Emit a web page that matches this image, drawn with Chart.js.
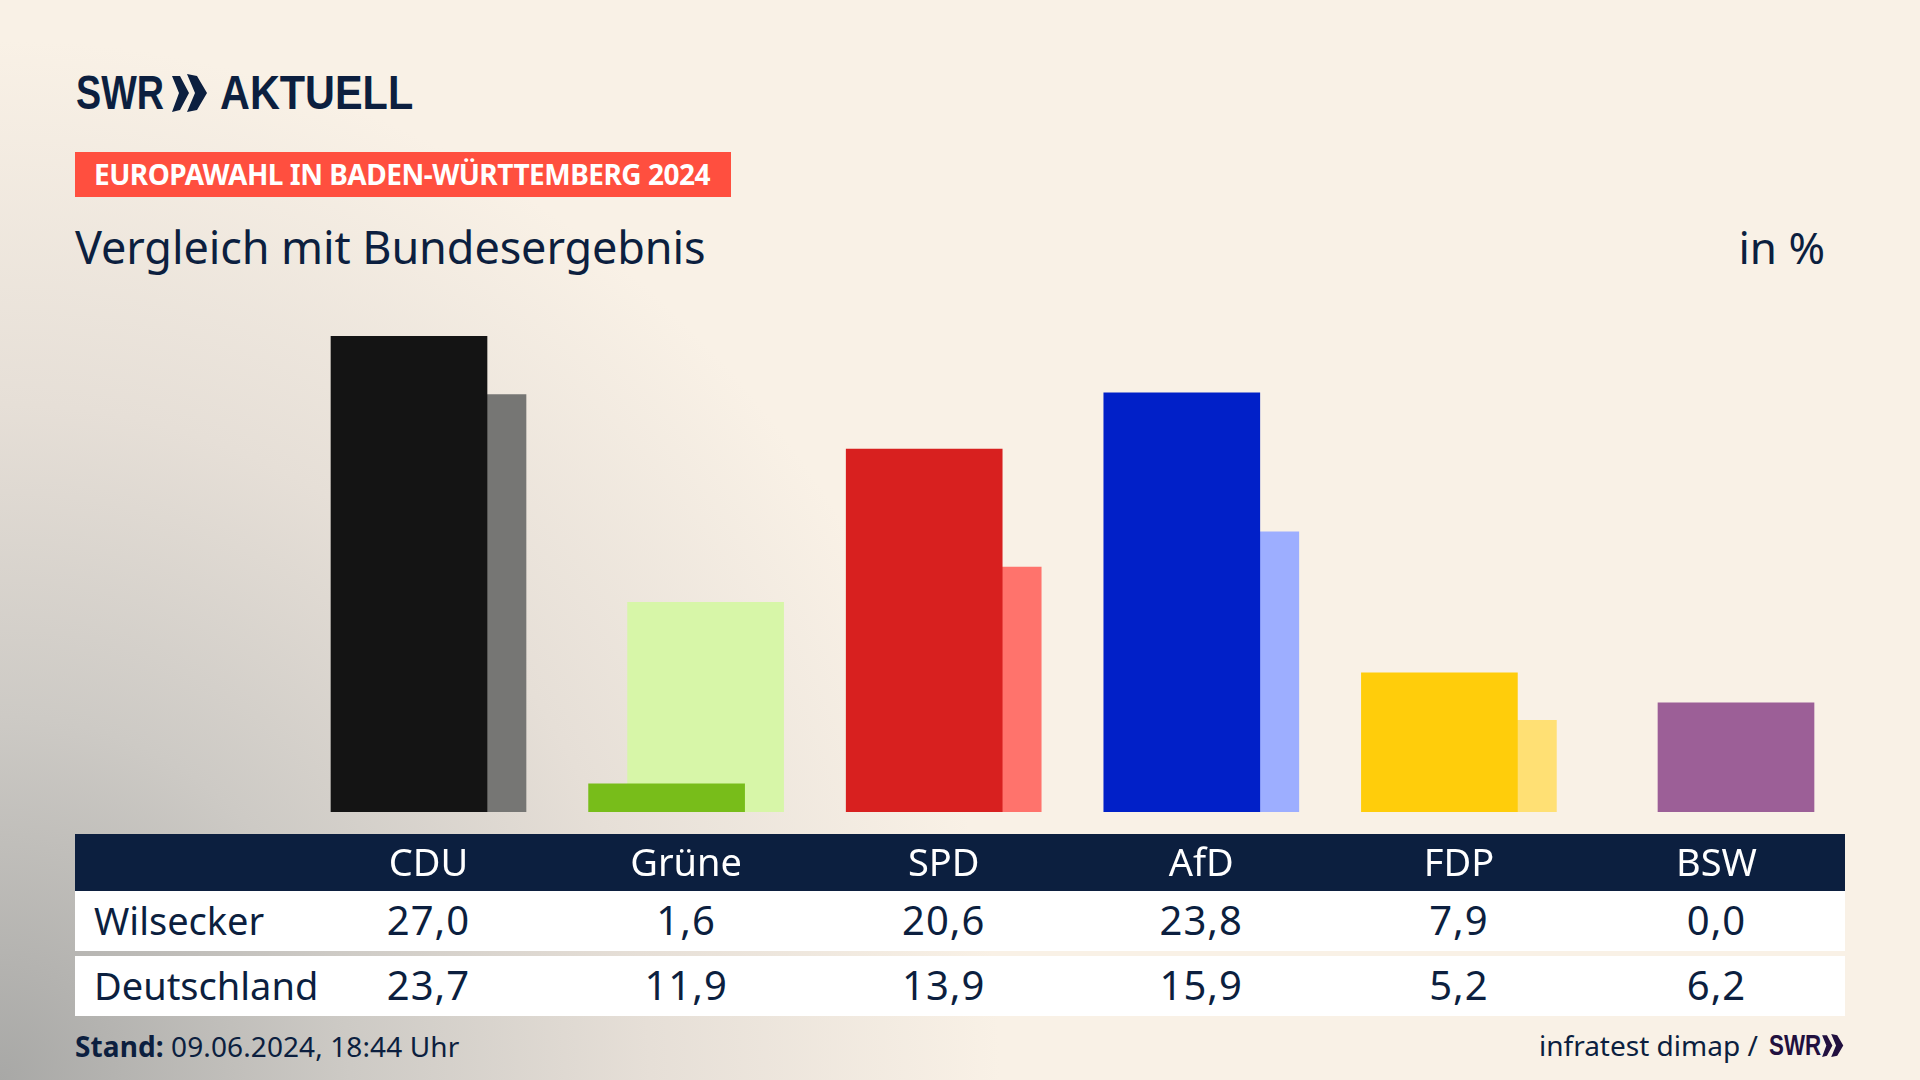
<!DOCTYPE html>
<html lang="de">
<head>
<meta charset="utf-8">
<title>Europawahl in Baden-Württemberg 2024</title>
<script src="https://cdn.jsdelivr.net/npm/chart.js@4"></script>
<style>
  html, body { margin: 0; padding: 0; }
  body {
    position: relative; width: 1920px; height: 1080px; overflow: hidden;
    font-family: "Noto Sans", sans-serif; color: #0c1f3f;
    background:
      radial-gradient(ellipse 1000px 1040px at 0 100%, #a8a8a6 0%, #cdcac5 35%, #e6dfd7 65%, rgba(249,241,230,0) 100%),
      #f9f1e6;
  }
  .abs { position: absolute; white-space: nowrap; }
  #chart { position: absolute; left: 0; top: 0; z-index: 2; }
  .logo { font-family: "Liberation Sans", sans-serif; font-weight: 700; font-size: 49px; line-height: 49px; transform-origin: left center; }
  #badge { left: 75px; top: 152px; width: 656px; height: 45px; background: #ff4f3f; }
  #badgeText { left: 94px; top: 155px; font-size: 28px; line-height: 38px; font-weight: 700; color: #fff; letter-spacing: -0.5px; }
  #title { left: 75px; top: 217px; font-size: 45px; line-height: 60px; letter-spacing: -0.1px; }
  #unit { right: 95px; top: 217px; font-size: 44px; line-height: 60px; }
  #head { left: 75px; top: 834px; width: 1770px; height: 57px; background: #0c1f3f; z-index: 1; }
  .row { position: absolute; left: 75px; width: 1770px; height: 60px; background: #fff; }
  .row span { position: absolute; top: 0; line-height: 58px; white-space: nowrap; }
  .row .name { left: 19px; font-size: 38px; }
  .row .val { width: 200px; margin-left: -100px; text-align: center; font-size: 40px; letter-spacing: 1px; }
  #stand { left: 75px; top: 1026px; font-size: 28px; line-height: 40px; letter-spacing: 0.1px; }
  #stand b { font-weight: 700; }
  #source { left: 1539px; top: 1025px; font-size: 28px; line-height: 40px; }
</style>
</head>
<body>
<div class="abs logo" style="left:76px;top:68px;transform:scaleX(0.77)">SWR</div>
<svg class="abs" style="left:172px;top:74px" width="36" height="38" viewBox="0 0 36 38" fill="#0c1f3f">
  <polygon points="0,2 8,2 17,19 8,36 0,38 7,19"/>
  <polygon points="15,0 25,2 35,19 25,36 15,38 23,19"/>
</svg>
<div class="abs logo" style="left:220px;top:68px;transform:scaleX(0.845)">AKTUELL</div>

<div class="abs" id="badge"></div>
<div class="abs" id="badgeText">EUROPAWAHL IN BADEN-WÜRTTEMBERG 2024</div>
<div class="abs" id="title">Vergleich mit Bundesergebnis</div>
<div class="abs" id="unit">in %</div>

<div class="abs" id="head"></div>
<div id="rows"></div>

<div class="abs" id="stand"><b>Stand:</b> 09.06.2024, 18:44 Uhr</div>
<div class="abs" id="source">infratest dimap /</div>
<div class="abs logo" style="left:1769px;top:1031px;font-size:29px;line-height:29px;color:#22103f;transform:scaleX(0.77)">SWR</div>
<svg class="abs" style="left:1822px;top:1034px" width="22" height="23" viewBox="0 0 36 38" fill="#22103f">
  <polygon points="0,2 8,2 17,19 8,36 0,38 7,19"/>
  <polygon points="15,0 25,2 35,19 25,36 15,38 23,19"/>
</svg>

<canvas id="chart" width="1920" height="1080"></canvas>

<script>
  const categories = ['CDU', 'Grüne', 'SPD', 'AfD', 'FDP', 'BSW'];
  const localLabel = 'Wilsecker';
  const nationalLabel = 'Deutschland';
  const localValues = [27.0, 1.6, 20.6, 23.8, 7.9, 0.0];
  const nationalValues = [23.7, 11.9, 13.9, 15.9, 5.2, 6.2];
  const localColors = ['#141414', '#78bd1a', '#d8201f', '#0120c8', '#ffcd0b', 'rgba(0,0,0,0)'];
  const nationalColors = ['#767674', '#d7f6a8', '#ff736c', '#9daeff', '#ffe074', '#9c5f97'];

  // bars of one party overlap, so they sit on a linear x scale and get nudged apart
  const barOffset = 0.0757;
  const fmt = n => n.toLocaleString('de-DE', { minimumFractionDigits: 1, maximumFractionDigits: 1 });
  const slotX = i => 428.5 + i * 257.6;

  function addRow(label, values, top) {
    const row = document.createElement('div');
    row.className = 'row';
    row.style.top = top + 'px';
    row.innerHTML = `<span class="name">${label}</span>` + values.map((v, i) =>
      `<span class="val" style="left:${slotX(i) - 75}px">${fmt(v)}</span>`).join('');
    document.getElementById('rows').appendChild(row);
  }
  addRow(localLabel, localValues, 891);
  addRow(nationalLabel, nationalValues, 956);

  new Chart(document.getElementById('chart'), {
    type: 'bar',
    data: {
      datasets: [
        {
          label: localLabel,
          data: localValues.map((v, i) => ({ x: i - barOffset, y: v })),
          backgroundColor: localColors,
          order: 1
        },
        {
          label: nationalLabel,
          data: nationalValues.map((v, i) => ({ x: i + barOffset, y: v })),
          backgroundColor: nationalColors,
          order: 2
        }
      ]
    },
    options: {
      responsive: false,
      animation: false,
      devicePixelRatio: 1,
      layout: { padding: { left: 299.7, right: 74.7, top: 283.5, bottom: 178 } },
      grouped: false,
      barThickness: 156,
      plugins: { legend: { display: false }, tooltip: { enabled: false } },
      scales: {
        x: {
          type: 'linear',
          offset: false,
          min: -0.5,
          max: 5.5,
          grid: { display: false, drawTicks: false },
          border: { display: false },
          afterBuildTicks: scale => { scale.ticks = categories.map((_, value) => ({ value })); },
          // tall box so the labels are not clipped; they sit on the dark header band
          afterFit: scale => { scale.height = 90; },
          ticks: {
            autoSkip: false,
            maxRotation: 0,
            padding: 30,
            color: '#ffffff',
            font: { family: '"Noto Sans", sans-serif', size: 38 },
            callback: value => categories[value]
          }
        },
        y: { display: false, min: 0, max: 30 }
      }
    }
  });
</script>
</body>
</html>
